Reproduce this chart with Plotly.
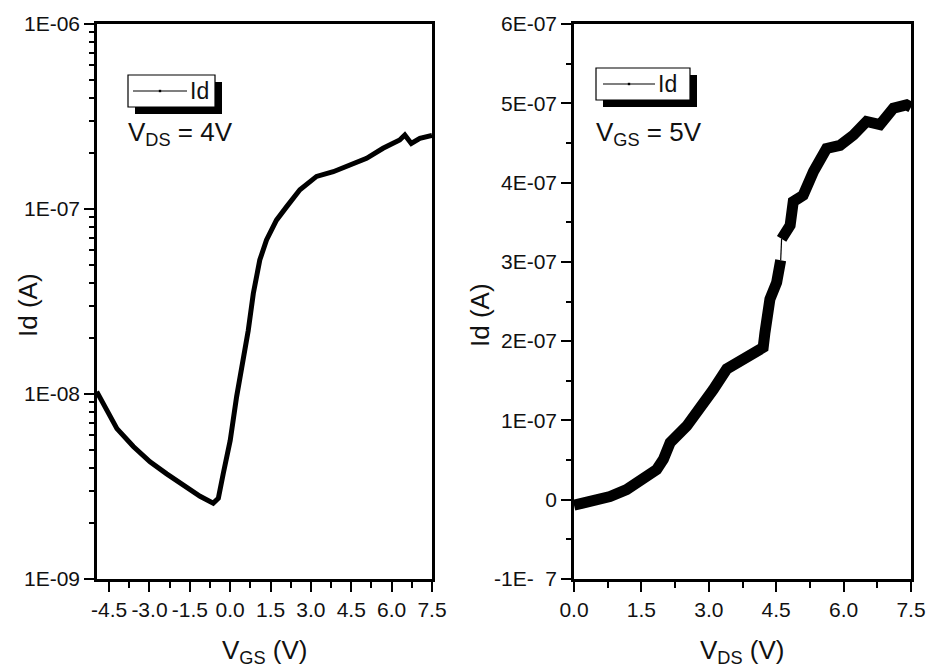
import plotly.graph_objects as go

# ---------------- data ----------------
vgs = [-4.96, -4.59, -4.21, -3.60, -2.98, -2.36, -1.74, -1.12, -0.63, -0.44, -0.26,
       0.00, 0.24, 0.48, 0.67, 0.86, 1.10, 1.35, 1.72, 2.10, 2.59, 3.21, 3.83, 4.45,
       5.07, 5.68, 6.30, 6.49, 6.73, 7.05, 7.42, 7.50]
id_vgs = [1.03e-8, 8.2e-9, 6.5e-9, 5.2e-9, 4.3e-9, 3.7e-9, 3.2e-9, 2.8e-9, 2.57e-9, 2.73e-9, 3.7e-9,
          5.6e-9, 9.7e-9, 1.47e-8, 2.2e-8, 3.5e-8, 5.3e-8, 6.8e-8, 8.7e-8, 1.03e-7, 1.27e-7, 1.5e-7,
          1.59e-7, 1.73e-7, 1.88e-7, 2.13e-7, 2.36e-7, 2.51e-7, 2.26e-7, 2.41e-7, 2.48e-7, 2.5e-7]

vds_a = [0.00, 0.43, 0.80, 1.17, 1.54, 1.84, 1.99, 2.14, 2.51, 2.80, 3.10, 3.40, 3.62, 3.92,
         4.21, 4.25, 4.36, 4.51, 4.60]
id_vds_a = [-7e-9, -2e-9, 4e-9, 1.27e-8, 2.5e-8, 3.8e-8, 5.1e-8, 7.2e-8, 9.3e-8, 1.14e-7, 1.39e-7,
            1.65e-7, 1.73e-7, 1.84e-7, 1.92e-7, 2.11e-7, 2.53e-7, 2.74e-7, 3.02e-7]
vds_b = [4.62, 4.81, 4.88, 5.10, 5.33, 5.62, 5.92, 6.22, 6.51, 6.81, 7.11, 7.40, 7.50]
id_vds_b = [3.29e-7, 3.46e-7, 3.76e-7, 3.84e-7, 4.14e-7, 4.43e-7, 4.47e-7, 4.6e-7, 4.77e-7,
            4.73e-7, 4.94e-7, 4.98e-7, 4.95e-7]

left_xticks = [-4.5, -3.0, -1.5, 0.0, 1.5, 3.0, 4.5, 6.0, 7.5]
left_xticklabels = ["-4.5", "-3.0", "-1.5", "0.0", "1.5", "3.0", "4.5", "6.0", "7.5"]
left_yticks = [1e-9, 1e-8, 1e-7, 1e-6]
left_yticklabels = ["1E-09", "1E-08", "1E-07", "1E-06"]
right_xticks = [0.0, 1.5, 3.0, 4.5, 6.0, 7.5]
right_xticklabels = ["0.0", "1.5", "3.0", "4.5", "6.0", "7.5"]
right_yticks = [-1e-7, 0, 1e-7, 2e-7, 3e-7, 4e-7, 5e-7, 6e-7]
right_yticklabels = ["-1E-  7", "0", "1E-07", "2E-07", "3E-07", "4E-07", "5E-07", "6E-07"]

# ---------------- layout helpers ----------------
W, H = 927, 671
def px(x):
    return x / W
def py(y):
    return 1 - y / H

FONT = "Liberation Sans, Arial, sans-serif"
INK = "#111111"

fig = go.Figure()

fig.add_trace(go.Scatter(x=vgs, y=id_vgs, mode="lines", line=dict(color="black", width=5),
                         xaxis="x", yaxis="y", showlegend=False, hoverinfo="skip"))
fig.add_trace(go.Scatter(x=vds_a, y=id_vds_a, mode="lines", line=dict(color="black", width=11),
                         xaxis="x2", yaxis="y2", showlegend=False, hoverinfo="skip"))
fig.add_trace(go.Scatter(x=[vds_a[-1], vds_b[0]], y=[id_vds_a[-1], id_vds_b[0]], mode="lines",
                         line=dict(color="black", width=1.2), xaxis="x2", yaxis="y2",
                         showlegend=False, hoverinfo="skip"))
fig.add_trace(go.Scatter(x=vds_b, y=id_vds_b, mode="lines", line=dict(color="black", width=11),
                         xaxis="x2", yaxis="y2", showlegend=False, hoverinfo="skip"))

dom1 = [px(97), px(432)]
dom2 = [px(574), px(911)]
ydom = [py(579), py(24)]

tickfont = dict(family=FONT, size=21, color=INK)
axis_common = dict(showgrid=False, zeroline=False, showline=True, linecolor="black", linewidth=2.5,
                   ticks="outside", tickwidth=2, tickcolor="black", ticklen=10, tickfont=tickfont,
                   automargin=False, ticklabeloverflow="allow")
overlay_common = dict(showgrid=False, zeroline=False, showline=False, showticklabels=False,
                      tickwidth=2, tickcolor="black", tickmode="array", automargin=False)

minor_log = [m * 10.0 ** d for d in (-9, -8, -7) for m in range(2, 10)]
right_log_ticks = [10 ** (-9 + 0.2 * k) for k in range(1, 15)]
right_lin_ticks = [-1e-7 + k * 7e-7 / 15 for k in range(1, 15)]

fig.update_layout(
    width=W, height=H, margin=dict(l=0, r=0, t=0, b=0, autoexpand=False),
    paper_bgcolor="white", plot_bgcolor="white",
    xaxis=dict(axis_common, domain=dom1, anchor="y", range=[-4.95, 7.5], mirror=True,
               tickmode="array", tickvals=left_xticks, ticktext=left_xticklabels,
               minor=dict(ticks="outside", tickvals=[v + 0.75 for v in left_xticks[:-1]],
                          ticklen=6, tickwidth=2, tickcolor="black")),
    yaxis=dict(axis_common, domain=ydom, anchor="x", type="log", range=[-9, -6], mirror=True,
               tickmode="array", tickvals=left_yticks, ticktext=left_yticklabels,
               minor=dict(ticks="outside", tickvals=minor_log, ticklen=5, tickwidth=2, tickcolor="black")),
    xaxis3=dict(overlay_common, overlaying="x", anchor="y", side="top", range=[-4.95, 7.5],
                ticks="inside", ticklen=8, tickvals=[-4.5 + 0.75 * k for k in range(16)]),
    yaxis3=dict(overlay_common, overlaying="y", anchor="x", side="right", type="log", range=[-9, -6],
                ticks="outside", ticklen=10, tickvals=right_log_ticks),
    xaxis2=dict(axis_common, domain=dom2, anchor="y2", range=[0, 7.5], mirror=True,
                tickmode="array", tickvals=right_xticks, ticktext=right_xticklabels,
                minor=dict(ticks="outside", tickvals=[v + 0.75 for v in right_xticks[:-1]],
                           ticklen=6, tickwidth=2, tickcolor="black")),
    yaxis2=dict(axis_common, domain=ydom, anchor="x2", range=[-1e-7, 6e-7], mirror=True,
                tickmode="array", tickvals=right_yticks, ticktext=right_yticklabels,
                minor=dict(ticks="outside", tickvals=[v + 0.5e-7 for v in right_yticks[:-1]],
                           ticklen=5, tickwidth=2, tickcolor="black")),
    xaxis4=dict(overlay_common, overlaying="x2", anchor="y2", side="top", range=[0, 7.5],
                ticks="inside", ticklen=8, tickvals=[0.75 * k for k in range(1, 10)]),
    yaxis4=dict(overlay_common, overlaying="y2", anchor="x2", side="right", range=[-1e-7, 6e-7],
                ticks="outside", ticklen=10, tickvals=right_lin_ticks),
)

# ---------------- legend boxes (drawn) ----------------
shapes = []
annotations = []

def legend_box(x0, y0, x1, y1, line_x0, line_x1):
    shapes.append(dict(type="rect", xref="paper", yref="paper", x0=px(x0 + 7), x1=px(x1 + 7),
                       y0=py(y1 + 7), y1=py(y0 + 7), fillcolor="black", line=dict(width=0)))
    shapes.append(dict(type="rect", xref="paper", yref="paper", x0=px(x0), x1=px(x1),
                       y0=py(y1), y1=py(y0), fillcolor="white", line=dict(color="black", width=1.2)))
    ym = (y0 + y1) / 2
    shapes.append(dict(type="line", xref="paper", yref="paper", x0=px(line_x0), x1=px(line_x1),
                       y0=py(ym), y1=py(ym), line=dict(color="black", width=1.2)))
    mx = (line_x0 + line_x1) / 2
    shapes.append(dict(type="rect", xref="paper", yref="paper", x0=px(mx - 1.2), x1=px(mx + 1.2),
                       y0=py(ym + 1.2), y1=py(ym - 1.2), fillcolor="black", line=dict(width=0)))
    annotations.append(dict(xref="paper", yref="paper", x=px(line_x1 + 1), y=py(ym), text="Id",
                            showarrow=False, xanchor="left", yanchor="middle",
                            font=dict(family=FONT, size=23, color=INK)))

legend_box(128, 75, 215, 107, 133, 187)
legend_box(596, 68, 690, 100, 603, 655)
fig.update_layout(shapes=shapes)

big = dict(family=FONT, size=26, color=INK)
annotations += [
    dict(xref="paper", yref="paper", x=px(126), y=py(134), text="V<sub>DS</sub> = 4V",
         showarrow=False, xanchor="left", yanchor="middle", font=big),
    dict(xref="paper", yref="paper", x=px(594), y=py(134), text="V<sub>GS</sub> = 5V",
         showarrow=False, xanchor="left", yanchor="middle", font=big),
    dict(xref="paper", yref="paper", x=px(265), y=py(651), text="V<sub>GS</sub> (V)",
         showarrow=False, xanchor="center", yanchor="middle", font=big),
    dict(xref="paper", yref="paper", x=px(742), y=py(651), text="V<sub>DS</sub> (V)",
         showarrow=False, xanchor="center", yanchor="middle", font=big),
    dict(xref="paper", yref="paper", x=px(28), y=py(305), text="Id (A)", textangle=-90,
         showarrow=False, xanchor="center", yanchor="middle", font=big),
    dict(xref="paper", yref="paper", x=px(480), y=py(315), text="Id (A)", textangle=-90,
         showarrow=False, xanchor="center", yanchor="middle", font=big),
]
fig.update_layout(annotations=annotations)

# remove the default 8px page margin so the figure fills the 927x671 window exactly
fig.write_html("out.html", config={"displayModeBar": False},
               post_script="document.body.style.margin='0';")
